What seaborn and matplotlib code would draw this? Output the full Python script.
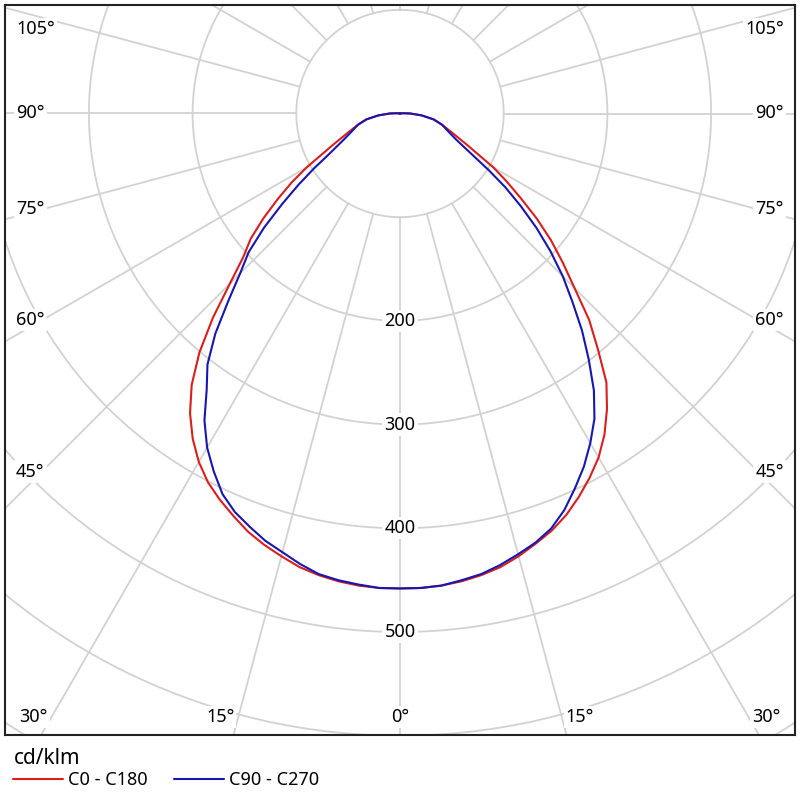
import numpy as np
import pandas as pd
import seaborn as sns
import matplotlib.pyplot as plt

sns.set_style('white')
plt.rcParams['font.family'] = ['Noto Sans', 'DejaVu Sans']
plt.rcParams['text.color'] = 'black'

# %% Data: luminous intensity (cd/klm) per gamma angle, both half planes
angles = [0, 2.5, 5, 7.5, 10, 12.5, 15, 17.5, 20, 22.5, 25, 27.5, 30, 32.5, 35, 37.5, 40,
          42.5, 45, 47.5, 50, 52.5, 55, 57.5, 60, 65, 70, 75, 80, 85, 90, 95, 100]
red_left = [458, 458, 457, 455, 452, 448, 442, 436, 429, 420, 411, 401, 388, 372, 353, 330, 301,
            267, 232, 205, 188, 166, 144, 124, 104, 71, 53, 42, 33, 21, 10, 3, 0]
red_right = [458, 458, 457, 455, 452, 448, 442, 435, 428, 419, 408, 396, 383, 367, 348, 327, 297,
             270, 238, 213, 190, 166, 142, 122, 104, 71, 53, 42, 33, 21, 10, 3, 0]
blue_left = [458, 458, 456, 454, 451, 445, 438, 432, 424, 416, 405, 389, 372, 351, 325, 305, 277,
             245, 218, 198, 171, 143, 119, 98, 80, 60, 49, 42, 33, 21, 10, 3, 0]
blue_right = [458, 458, 457, 454, 451, 446, 440, 434, 426, 414, 399, 384, 367, 349, 326, 299, 273,
              246, 222, 197, 172, 147, 124, 101, 82, 60, 49, 42, 33, 21, 10, 3, 0]
series_names = ['C0 - C180', 'C90 - C270']
series_colors = ['#d91e1e', '#1717b0']

ring_values = [100, 200, 300, 400, 500, 600, 700]
ring_labels = [200, 300, 400, 500]
side_angles = [45, 60, 75, 90, 105]
bottom_angles = [0, 15, 30]
unit_label = 'cd/klm'

# %% Build polar -> cartesian frame
frames = []
for name, left, right in [(series_names[0], red_left, red_right),
                          (series_names[1], blue_left, blue_right)]:
    theta = np.radians(np.concatenate([-np.array(angles[::-1]), np.array(angles[1:])]))
    r = np.concatenate([np.array(left[::-1]), np.array(right[1:])])
    frames.append(pd.DataFrame({'x': r * np.sin(theta), 'y': -r * np.cos(theta),
                                'series': name}))
df = pd.concat(frames, ignore_index=True)

# %% Figure
PX = 1.037  # pixels per cd/klm
fig = plt.figure(figsize=(8, 8), dpi=100)
ax = fig.add_axes([5 / 800, 65 / 800, 790 / 800, 730 / 800])
ax.set_xlim(-395 / PX, 395 / PX)
ax.set_ylim(-(735 - 113.5) / PX, (113.5 - 5) / PX)

grid_col = '#d2d2d2'
t = np.linspace(0, 2 * np.pi, 721)
for rv in ring_values:
    ax.plot(rv * np.sin(t), rv * np.cos(t), color=grid_col, lw=1.3, zorder=1)
for a in np.radians(np.arange(0, 360, 15)):
    ax.plot([100 * np.sin(a), 1000 * np.sin(a)], [-100 * np.cos(a), -1000 * np.cos(a)],
            color=grid_col, lw=1.3, zorder=1)

sns.lineplot(data=df, x='x', y='y', hue='series', palette=series_colors,
             sort=False, estimator=None, lw=1.5, ax=ax, zorder=4)

box = dict(fc='white', ec='none', pad=1.5)
for rv in ring_labels:
    ax.text(0, -rv, str(rv), ha='center', va='center', fontsize=13, bbox=box, zorder=3)

# angle labels along the frame
xs = 358 / PX
ytop = (113.5 - 29) / PX
for a in side_angles:
    y = min(-xs / np.tan(np.radians(a)), ytop)
    ax.text(-384 / PX, y, f'{a}°', ha='left', va='center', fontsize=13, bbox=box, zorder=3)
    ax.text(384 / PX, y, f'{a}°', ha='right', va='center', fontsize=13, bbox=box, zorder=3)
ybot = -(717 - 113.5) / PX
for a in bottom_angles:
    if a == 0:
        ax.text(0, ybot, '0°', ha='center', va='center', fontsize=13, bbox=box, zorder=3)
        continue
    x = -ybot * np.tan(np.radians(a)) + 4 / PX
    ax.text(-x, ybot, f'{a}°', ha='right', va='center', fontsize=13, bbox=box, zorder=3)
    ax.text(x, ybot, f'{a}°', ha='left', va='center', fontsize=13, bbox=box, zorder=3)

ax.set_xticks([])
ax.set_yticks([])
ax.set_xlabel('')
ax.set_ylabel('')
for sp in ax.spines.values():
    sp.set_visible(True)
    sp.set_color('#222222')
    sp.set_linewidth(1.5)

handles, labels = ax.get_legend_handles_labels()
ax.get_legend().remove()
fig.text(14 / 800, 1 - 759 / 800, unit_label, ha='left', va='center', fontsize=15)
fig.legend(handles, labels, loc='center left', bbox_to_anchor=(12.7 / 800, 1 - 780 / 800),
           ncol=2, frameon=False, fontsize=13, handlelength=2.77,
           handletextpad=0.3, columnspacing=1.45, borderpad=0, borderaxespad=0)

fig.savefig('out.png', dpi=100)
